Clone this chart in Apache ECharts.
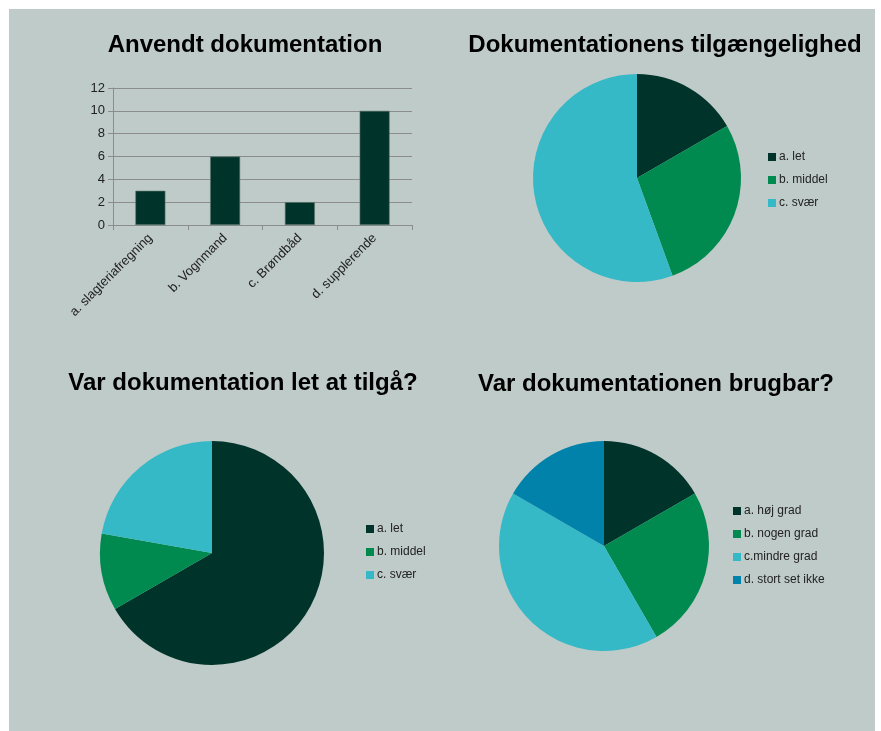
<!DOCTYPE html>
<html>
<head>
<meta charset="utf-8">
<script src="https://cdn.jsdelivr.net/npm/echarts@6/dist/echarts.min.js"></script>
<style>
  html, body { margin: 0; padding: 0; background: #ffffff; }
  #chart { width: 881px; height: 731px; }
</style>
</head>
<body>
<div id="chart"></div>
<script>
// Anvendt dokumentation (bar chart)
const barCategories = ['a. slagteriafregning', 'b. Vognmand', 'c. Brøndbåd', 'd. supplerende'];
const barValues = [3, 6, 2, 10];

// Dokumentationens tilgængelighed
const accessNames = ['a. let', 'b. middel', 'c. svær'];
const accessValues = [3, 5, 10];

// Var dokumentation let at tilgå?
const easeNames = ['a. let', 'b. middel', 'c. svær'];
const easeValues = [6, 1, 2];

// Var dokumentationen brugbar?
const usefulNames = ['a. høj grad', 'b. nogen grad', 'c.mindre grad', 'd. stort set ikke'];
const usefulValues = [2, 3, 5, 2];

const titles = ['Anvendt dokumentation', 'Dokumentationens tilgængelighed',
                'Var dokumentation let at tilgå?', 'Var dokumentationen brugbar?'];

const palette = ['#00332a', '#008a4f', '#36b9c6', '#0082aa'];
const panelBg = '#bfcbc8';
const gridGray = '#8c8c8c';
const font = 'Liberation Sans, Arial, sans-serif';

function pieData(names, values) {
  return names.map((n, i) => ({ name: n, value: values[i], itemStyle: { color: palette[i] } }));
}

function pieSeries(names, values, center, radius) {
  return {
    type: 'pie',
    center: center,
    radius: radius,
    startAngle: 90,
    clockwise: true,
    label: { show: false },
    labelLine: { show: false },
    emphasis: { disabled: true },
    itemStyle: { borderWidth: 0 },
    data: pieData(names, values)
  };
}

function legend(names, left, top) {
  return {
    orient: 'vertical',
    left: left,
    top: top,
    icon: 'rect',
    itemWidth: 8,
    itemHeight: 8,
    itemGap: 11,
    selectedMode: false,
    textStyle: { fontFamily: font, fontSize: 12, color: '#222', padding: [0, 0, 0, -2] },
    data: names
  };
}

function title(text, x, y) {
  return {
    text: text,
    left: x,
    top: y,
    textAlign: 'center',
    textStyle: { fontFamily: font, fontSize: 24, fontWeight: 'bold', color: '#000' }
  };
}

const chart = echarts.init(document.getElementById('chart'), null, { renderer: 'canvas' });

chart.setOption({
  animation: false,
  backgroundColor: '#ffffff',
  graphic: [{
    type: 'rect',
    z: -10,
    shape: { x: 9, y: 9, width: 866, height: 722 },
    style: { fill: panelBg }
  }],
  title: [
    title(titles[0], 240, 28),
    title(titles[1], 660, 28),
    title(titles[2], 238, 366),
    title(titles[3], 651, 367)
  ],
  legend: [
    legend(accessNames, 763, 146),
    legend(easeNames, 361, 518),
    legend(usefulNames, 728, 500)
  ],
  grid: { left: 113, right: 469, top: 88, bottom: 506 },
  xAxis: {
    type: 'category',
    data: barCategories,
    axisLine: { lineStyle: { color: gridGray } },
    axisTick: { show: true, length: 5, lineStyle: { color: gridGray } },
    axisLabel: { rotate: 45, fontFamily: font, fontSize: 13, color: '#222', margin: 11 }
  },
  yAxis: {
    type: 'value',
    min: 0,
    max: 12,
    interval: 2,
    axisLine: { show: true, lineStyle: { color: gridGray } },
    axisTick: { show: true, length: 5, lineStyle: { color: gridGray } },
    splitLine: { lineStyle: { color: gridGray } },
    axisLabel: { fontFamily: font, fontSize: 13, color: '#222', margin: 8 }
  },
  series: [
    {
      type: 'bar',
      data: barValues,
      barWidth: 30,
      itemStyle: { color: palette[0], borderColor: '#5f7a72', borderWidth: 0.6 },
      emphasis: { disabled: true }
    },
    pieSeries(accessNames, accessValues, [637, 178], 104),
    pieSeries(easeNames, easeValues, [212, 553], 112),
    pieSeries(usefulNames, usefulValues, [604, 546], 105)
  ]
});
</script>
</body>
</html>
